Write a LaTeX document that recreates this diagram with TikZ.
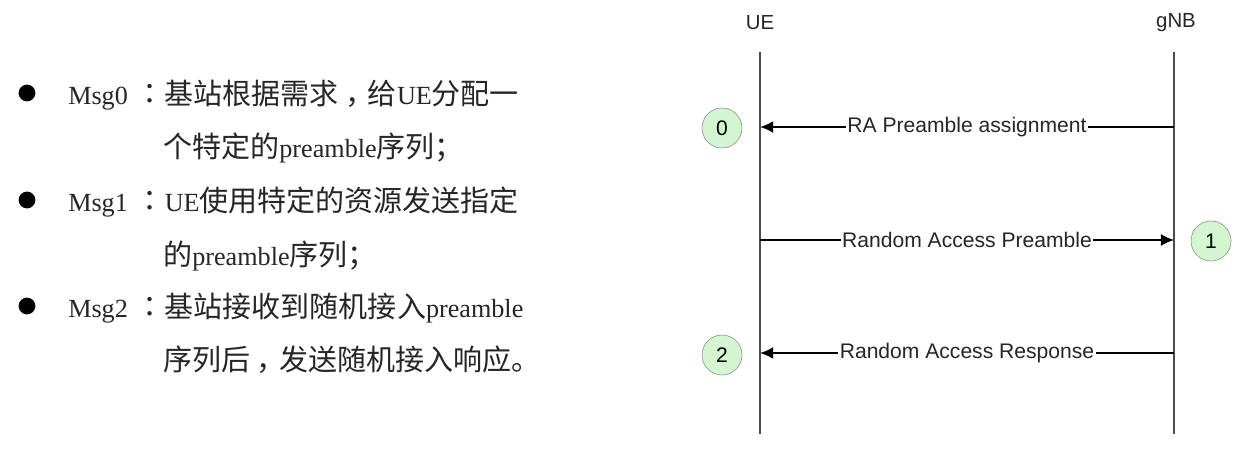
\documentclass[tikz,border=0pt]{standalone}
\usepackage{fontspec}
\setmainfont{Liberation Serif}
\newfontfamily\cjk[Scale=1.11]{Noto Sans CJK SC}
% centred fullwidth colon
\newfontfamily\cjkmid[Scale=1.11]{Noto Sans CJK TC}
\newfontfamily\arial{Liberation Sans}
\usetikzlibrary{arrows.meta, positioning}
\definecolor{numgreen}{HTML}{D3F5D0}
\newcommand\zc[1]{{\cjkmid #1}}
\newcommand\zcomma{\hspace{0.22em}\makebox[0.78em][l]{，}}

\begin{document}
\begin{tikzpicture}[
  x=0.025cm, y=-0.025cm,
  item/.style={anchor=base west, inner sep=0pt, text=black!85, font=\fontsize{18.6}{23}\selectfont},
  bullet/.style={circle, fill=black, inner sep=0pt, minimum size=4.2mm},
  actor/.style={inner sep=1pt, text=black!85, font=\arial\fontsize{14.5}{17}\selectfont},
  lifeline/.style={draw=black!70, line width=1pt},
  msg/.style={draw=black, line width=1.3pt, -{Latex[length=3.3mm, width=3mm]}},
  msglabel/.style={midway, fill=white, inner sep=1pt, text=black!85, font=\arial\fontsize{15}{18}\selectfont},
  msgnum/.style={circle, draw=black!45, fill=numgreen, minimum size=10mm, inner sep=0pt, font=\arial\fontsize{15}{18}\selectfont}
]
\useasboundingbox[fill=white] (0,0) rectangle (1241,459);

% left: message list
\node[bullet] (b0) at (27,93) {};
\node[bullet] (b1) at (27,200) {};
\node[bullet] (b2) at (27,306) {};

\node[item] (m0a) at (68,105) {Msg0\hspace{0.3em}\zc{：}{\cjk 基站根据需求\zcomma 给}UE{\cjk 分配一}};
\node[item] (m0b) at (163,157) {{\cjk 个特定的}preamble{\cjk 序列；}};
\node[item] (m1a) at (68,211) {Msg1\hspace{0.3em}\zc{：}UE{\cjk 使用特定的资源发送指定}};
\node[item] (m1b) at (163,265) {{\cjk 的}preamble{\cjk 序列；}};
\node[item] (m2a) at (68,317) {Msg2\hspace{0.3em}\zc{：}{\cjk 基站接收到随机接入}preamble};
\node[item] (m2b) at (163,370) {{\cjk 序列后\zcomma 发送随机接入响应。}};

% right: sequence chart
\node[actor] (ue) at (760,23) {UE};
\node[actor] (gnb) at (1176,23) {gNB};

\coordinate (ueTop) at (760,52);
\coordinate (ueBot) at (760,434);
\coordinate (gnbTop) at (1174,52);
\coordinate (gnbBot) at (1174,434);
\draw[lifeline] (ueTop) -- (ueBot);
\draw[lifeline] (gnbTop) -- (gnbBot);

\coordinate (ue0) at (760,127);
\coordinate (gnb0) at (1174,127);
\coordinate (ue1) at (760,240);
\coordinate (gnb1) at (1174,240);
\coordinate (ue2) at (760,353);
\coordinate (gnb2) at (1174,353);

\draw[msg] (gnb0) -- node[msglabel] {RA Preamble assignment} (ue0);
\draw[msg, line width=0.9pt] (ue1) -- node[msglabel] {Random Access Preamble} (gnb1);
\draw[msg] (gnb2) -- node[msglabel] {Random Access Response} (ue2);

\node[msgnum] (n0) at (722,128) {0};
\node[msgnum] (n1) at (1211,241) {1};
\node[msgnum] (n2) at (722,355) {2};
\end{tikzpicture}
\end{document}
